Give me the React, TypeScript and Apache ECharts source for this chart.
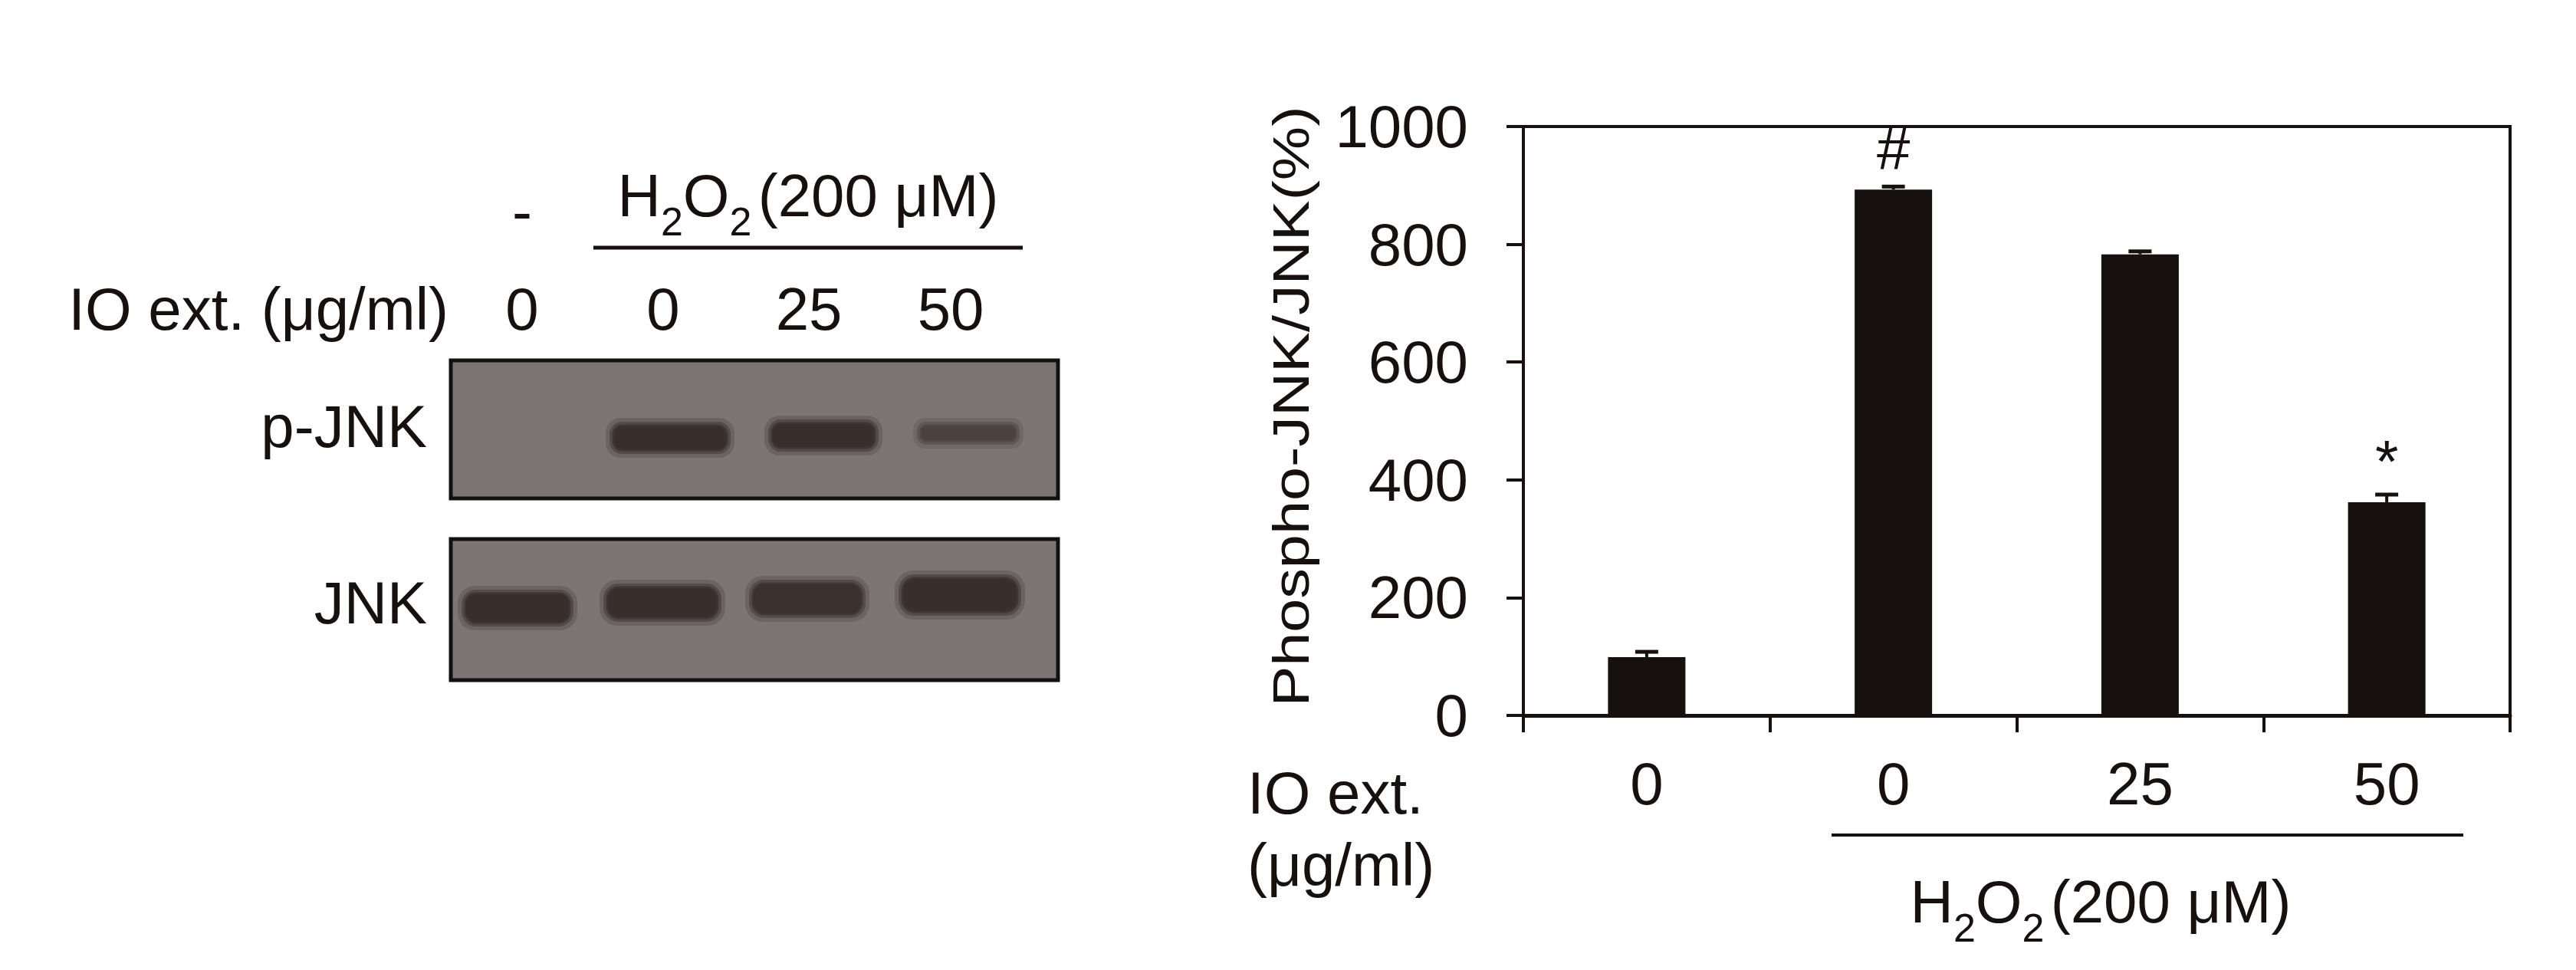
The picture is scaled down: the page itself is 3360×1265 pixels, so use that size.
import React, { useEffect, useRef } from "react";
import * as echarts from "echarts";

// ---------- data ----------
const doses = ["0", "0", "25", "50"];
const phosphoRatio = [99, 893, 783, 362];
const phosphoErr = [9, 5, 5, 13];
const sigMarks = ["", "#", "", "*"];
const yMin = 0;
const yMax = 1000;
const yStep = 200;

const blotLanes = ["0", "0", "25", "50"];
const pJnkStrength = [0, 1.0, 1.0, 0.72];
const jnkStrength = [1.0, 1.0, 0.97, 1.0];

// ---------- style / layout ----------
const FONT = "'Liberation Sans', Arial, Helvetica, sans-serif";
const INK = "#16100e";
const FS = 78;
const BLOT_BG = "#7d7474";
const BAND_DARK = [56, 46, 44];
const BAND_BG = [125, 116, 116];

const laneLabelX = [681, 865, 1055, 1240];
const pJnkBandGeom = [
  [675, 571, 140, 30],
  [874, 571, 146, 30],
  [1074, 568, 132, 30],
  [1263, 565, 122, 18],
];
const jnkBandGeom = [
  [675, 793, 134, 36],
  [864, 786, 142, 38],
  [1053, 781, 140, 38],
  [1252, 776, 148, 42],
];

function bandColor(s: number) {
  const c = BAND_BG.map((b, i) => Math.round(b + (BAND_DARK[i] - b) * s));
  return `rgb(${c[0]},${c[1]},${c[2]})`;
}

function bands(geom: number[][], strength: number[]) {
  const out: any[] = [];
  const layers = [
    { grow: 22, op: 0.25 },
    { grow: 12, op: 0.45 },
    { grow: 5, op: 0.7 },
    { grow: 0, op: 1 },
  ];
  geom.forEach((g, i) => {
    if (strength[i] <= 0) return;
    const col = bandColor(strength[i]);
    layers.forEach((l) => {
      const w = g[2] + l.grow;
      const h = g[3] + l.grow;
      out.push({
        type: "rect",
        shape: { x: g[0] - w / 2, y: g[1] - h / 2, width: w, height: h, r: h / 2.6 },
        style: { fill: col, opacity: l.op },
        z: 3,
      });
    });
  });
  return out;
}

function h2o2(x: number, y: number) {
  return {
    type: "text",
    x,
    y,
    z: 5,
    style: {
      text: "{n|H}{s|2}{n|O}{s|2}{g| }{n|(200 μM)}",
      align: "center",
      verticalAlign: "middle",
      fontSize: FS,
      fontFamily: FONT,
      fill: INK,
      rich: {
        n: { fontSize: FS, lineHeight: FS, fontFamily: FONT, fill: INK, verticalAlign: "top" },
        s: { fontSize: 52, lineHeight: 52, fontFamily: FONT, fill: INK, verticalAlign: "top", padding: [47, 0, 0, 0] },
        g: { fontSize: 30, lineHeight: 30, fontFamily: FONT, fill: INK, verticalAlign: "top" },
      },
    },
  };
}

function txt(text: string, x: number, y: number, align: string, extra: any = {}) {
  return {
    type: "text",
    x,
    y,
    z: 5,
    ...extra,
    style: { text, align, verticalAlign: "middle", fontSize: FS, fontFamily: FONT, fill: INK },
  };
}

export default function App() {
  const ref = useRef<HTMLDivElement>(null);
  useEffect(() => {
    if (!ref.current) return;
    const chart = echarts.init(ref.current, undefined, { renderer: "svg" });
    const graphic: any[] = [
      // ---- western blot panel ----
      txt("-", 681, 276, "center"),
      h2o2(1054, 255),
      { type: "line", shape: { x1: 774, y1: 323, x2: 1334, y2: 323 }, style: { stroke: INK, lineWidth: 5 } },
      txt("IO ext. (μg/ml)", 585, 403, "right"),
      ...blotLanes.map((l, i) => txt(l, laneLabelX[i], 403, "center")),
      txt("p-JNK", 557, 556, "right"),
      txt("JNK", 557, 786, "right"),
      {
        type: "rect",
        shape: { x: 588, y: 470, width: 792, height: 180 },
        style: { fill: BLOT_BG, stroke: "#111", lineWidth: 5 },
        z: 2,
      },
      {
        type: "rect",
        shape: { x: 588, y: 703, width: 792, height: 184 },
        style: { fill: BLOT_BG, stroke: "#111", lineWidth: 5 },
        z: 2,
      },
      ...bands(pJnkBandGeom, pJnkStrength),
      ...bands(jnkBandGeom, jnkStrength),
      // ---- bar chart annotations ----
      {
        type: "text",
        x: 1684,
        y: 530,
        rotation: Math.PI / 2,
        scaleX: 1.2,
        z: 5,
        style: {
          text: "Phospho-JNK/JNK(%)",
          align: "center",
          verticalAlign: "middle",
          fontSize: 66,
          fontFamily: FONT,
          fill: INK,
        },
      },
      txt("IO ext.", 1627, 1034, "left"),
      txt("(μg/ml)", 1627, 1128, "left"),
      { type: "line", shape: { x1: 2389, y1: 1089, x2: 3213, y2: 1089 }, style: { stroke: INK, lineWidth: 4 } },
      h2o2(2740, 1176),
    ];

    chart.setOption({
      animation: false,
      backgroundColor: "#ffffff",
      textStyle: { fontFamily: FONT },
      grid: {
        left: 1987,
        top: 165,
        width: 1287,
        height: 768,
        show: true,
        borderColor: INK,
        borderWidth: 4,
        backgroundColor: "transparent",
      },
      xAxis: {
        type: "category",
        data: doses,
        boundaryGap: true,
        axisLine: { show: true, lineStyle: { color: INK, width: 5 } },
        axisTick: { show: true, length: 22, inside: false, lineStyle: { color: INK, width: 4 } },
        axisLabel: { margin: 50, fontSize: FS, lineHeight: FS, color: INK, fontFamily: FONT },
        splitLine: { show: false },
      },
      yAxis: {
        type: "value",
        min: yMin,
        max: yMax,
        interval: yStep,
        axisLine: { show: true, lineStyle: { color: INK, width: 4 } },
        axisTick: { show: true, length: 22, inside: false, lineStyle: { color: INK, width: 4 } },
        axisLabel: {
          margin: 72,
          fontSize: FS,
          color: INK,
          fontFamily: FONT,
          formatter: (v: number) => String(v),
        },
        splitLine: { show: false },
      },
      series: [
        {
          type: "bar",
          data: phosphoRatio,
          barWidth: 101,
          itemStyle: { color: INK },
          label: {
            show: true,
            position: "top",
            distance: 14,
            formatter: (p: any) => sigMarks[p.dataIndex],
            fontSize: FS,
            lineHeight: FS,
            color: INK,
            fontFamily: FONT,
          },
          z: 2,
        },
        {
          type: "custom",
          data: phosphoRatio.map((v, i) => [i, v, v + phosphoErr[i]]),
          z: 3,
          renderItem: (params: any, api: any) => {
            const base = api.coord([api.value(0), api.value(1)]);
            const top = api.coord([api.value(0), api.value(2)]);
            return {
              type: "group",
              children: [
                {
                  type: "line",
                  shape: { x1: base[0], y1: base[1], x2: base[0], y2: top[1] },
                  style: { stroke: INK, lineWidth: 4 },
                },
                {
                  type: "line",
                  shape: { x1: base[0] - 15, y1: top[1], x2: base[0] + 15, y2: top[1] },
                  style: { stroke: INK, lineWidth: 5 },
                },
              ],
            };
          },
        },
      ],
      graphic,
    });
    return () => chart.dispose();
  }, []);
  return (
    <div
      ref={ref}
      style={{ position: "fixed", left: 0, top: 0, width: 3360, height: 1265, background: "#fff" }}
    />
  );
}
